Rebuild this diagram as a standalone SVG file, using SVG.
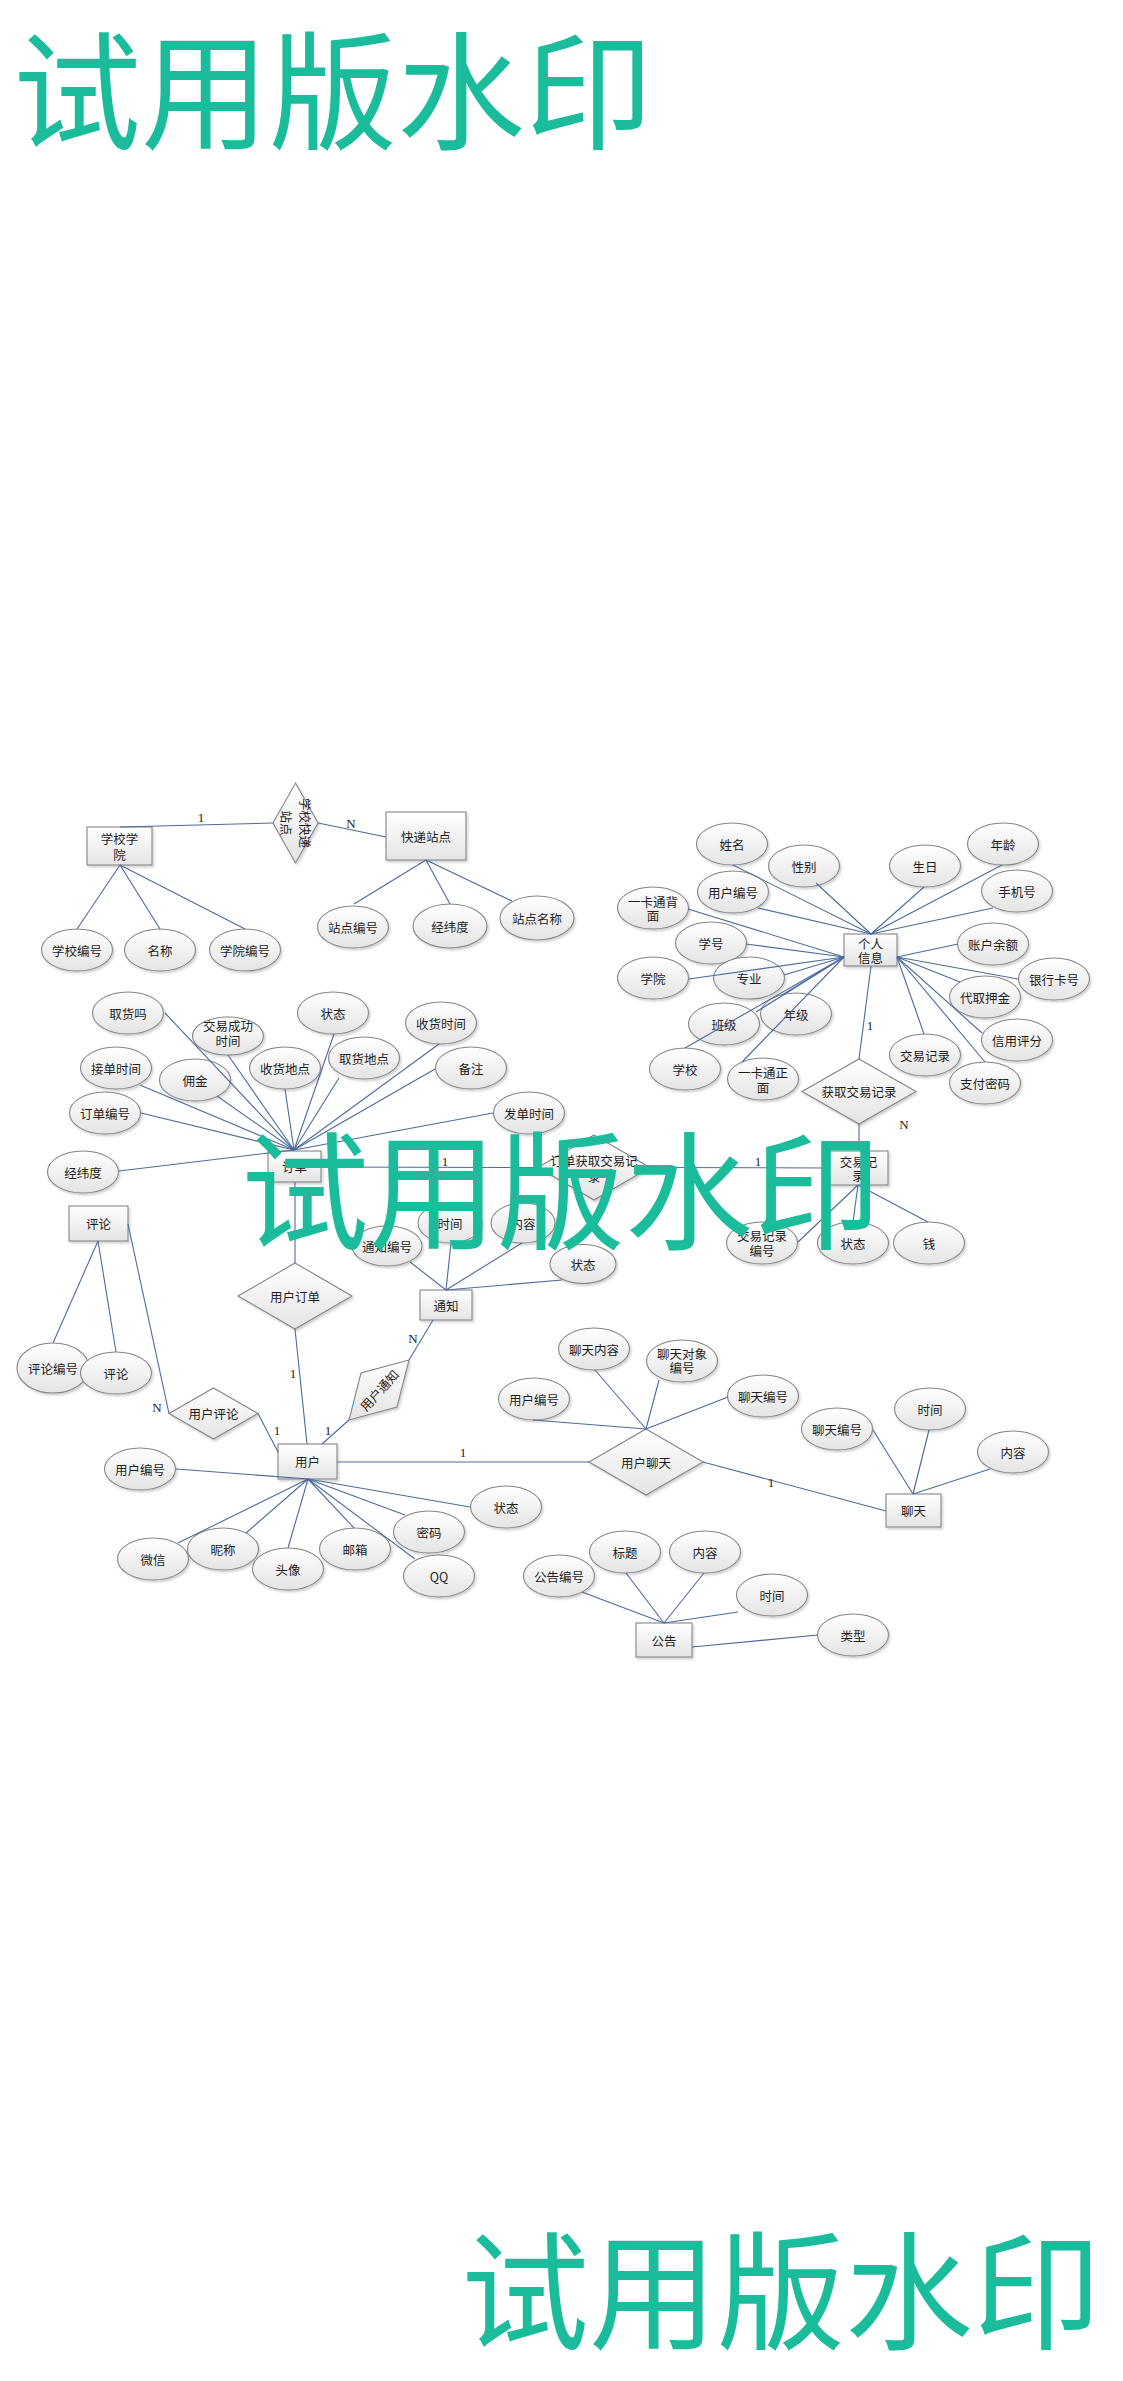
<svg xmlns="http://www.w3.org/2000/svg" width="1123" height="2381" viewBox="0 0 1123 2381">
<defs>
  <linearGradient id="fillG" x1="0" y1="0" x2="0" y2="1">
    <stop offset="0" stop-color="#ffffff"/>
    <stop offset="1" stop-color="#e4e4e4"/>
  </linearGradient>
  <filter id="sh" x="-20%" y="-20%" width="140%" height="150%">
    <feDropShadow dx="1.5" dy="2" stdDeviation="1.2" flood-color="#000" flood-opacity="0.18"/>
  </filter>
  <style>
    .e, .r, .d { fill: url(#fillG); stroke: #858585; stroke-width: 1.1; filter: url(#sh); }
    .t { font-family: "Noto Sans CJK SC", "Liberation Sans", sans-serif; font-size: 12.5px; fill: #1e1e1e; text-anchor: middle; dominant-baseline: central; }
    .c line { stroke: #4b6b9b; stroke-width: 1.1; }
    .lb { font-family: "Liberation Serif", serif; font-size: 13px; fill: #222; text-anchor: middle; dominant-baseline: central; }
    .wm { font-family: "Noto Sans CJK SC", sans-serif; font-size: 128px; fill: #1bbc9b; }
  </style>
</defs>
<rect width="1123" height="2381" fill="#ffffff"/>

<!-- entities -->
<g id="ent-school"><rect class="r" x="87" y="827" width="65" height="38"/><text class="t" x="119.5" y="838">学校学</text><text class="t" x="119.5" y="854">院</text></g>
<g id="ent-station"><rect class="r" x="386" y="812" width="80" height="48"/><text class="t" x="426" y="836">快递站点</text></g>
<g id="ent-profile"><rect class="r" x="844" y="934" width="53" height="32"/><text class="t" x="870.5" y="943">个人</text><text class="t" x="870.5" y="957">信息</text></g>
<g id="ent-order"><rect class="r" x="268" y="1151" width="53" height="31"/><text class="t" x="294.5" y="1166.5">订单</text></g>
<g id="ent-trade"><rect class="r" x="829" y="1151" width="59" height="34"/><text class="t" x="858.5" y="1161.5">交易记</text><text class="t" x="858.5" y="1175">录</text></g>
<g id="ent-comment"><rect class="r" x="69" y="1206" width="59" height="35"/><text class="t" x="98.5" y="1223.5">评论</text></g>
<g id="ent-notice"><rect class="r" x="420" y="1290" width="52" height="30"/><text class="t" x="446" y="1305">通知</text></g>
<g id="ent-user"><rect class="r" x="278" y="1444" width="59" height="35"/><text class="t" x="307.5" y="1461.5">用户</text></g>
<g id="ent-chat"><rect class="r" x="886" y="1494" width="55" height="33"/><text class="t" x="913.5" y="1510.5">聊天</text></g>
<g id="ent-bulletin"><rect class="r" x="636" y="1623" width="56" height="34"/><text class="t" x="664" y="1640">公告</text></g>

<!-- relationships -->
<g id="rel-school-station"><polygon class="d" points="295.5,783 318,823 295.5,863 273,823"/><g transform="translate(295.5,823) rotate(90)"><text class="t" x="0" y="-9.5">学校快递</text><text class="t" x="0" y="9.5">站点</text></g></g>
<g id="rel-get-trade"><polygon class="d" points="859,1059 916,1091.5 859,1124 802,1091.5"/><text class="t" x="859" y="1091.5">获取交易记录</text></g>
<g id="rel-order-trade"><polygon class="d" points="594,1135 650,1167.5 594,1200 538,1167.5"/><text class="t" x="594" y="1160">订单获取交易记</text><text class="t" x="594" y="1176">录</text></g>
<g id="rel-user-order"><polygon class="d" points="295,1263 352,1296 295,1329 238,1296"/><text class="t" x="295" y="1296">用户订单</text></g>
<g id="rel-user-comment"><polygon class="d" points="213.5,1388 258,1413.5 213.5,1439 169,1413.5"/><text class="t" x="213.5" y="1413.5">用户评论</text></g>
<g id="rel-user-notice"><polygon class="d" points="349,1420 361,1373 409,1360 397,1407"/><text class="t" x="379" y="1390" transform="rotate(-48 379 1390)">用户通知</text></g>
<g id="rel-user-chat"><polygon class="d" points="646,1429 703,1462 646,1495 589,1462"/><text class="t" x="646" y="1462">用户聊天</text></g>

<!-- attributes -->
<g id="att-school-no"><ellipse class="e" cx="77" cy="950" rx="35.5" ry="21"/><text class="t" x="77" y="950">学校编号</text></g>
<g id="att-school-name"><ellipse class="e" cx="160" cy="950" rx="35.5" ry="21"/><text class="t" x="160" y="950">名称</text></g>
<g id="att-college-no"><ellipse class="e" cx="245" cy="950" rx="35.5" ry="21"/><text class="t" x="245" y="950">学院编号</text></g>

<g id="att-station-no"><ellipse class="e" cx="353" cy="927" rx="35.5" ry="21"/><text class="t" x="353" y="927">站点编号</text></g>
<g id="att-station-geo"><ellipse class="e" cx="450" cy="926" rx="37" ry="22"/><text class="t" x="450" y="926">经纬度</text></g>
<g id="att-station-name"><ellipse class="e" cx="537" cy="918" rx="37" ry="22"/><text class="t" x="537" y="918">站点名称</text></g>

<g id="att-name"><ellipse class="e" cx="732" cy="844" rx="35.5" ry="21"/><text class="t" x="732" y="844">姓名</text></g>
<g id="att-gender"><ellipse class="e" cx="804" cy="866" rx="35.5" ry="21"/><text class="t" x="804" y="866">性别</text></g>
<g id="att-birthday"><ellipse class="e" cx="925" cy="866" rx="35.5" ry="21"/><text class="t" x="925" y="866">生日</text></g>
<g id="att-age"><ellipse class="e" cx="1003" cy="844" rx="35.5" ry="21"/><text class="t" x="1003" y="844">年龄</text></g>
<g id="att-profile-uid"><ellipse class="e" cx="733" cy="892" rx="35.5" ry="21"/><text class="t" x="733" y="892">用户编号</text></g>
<g id="att-phone"><ellipse class="e" cx="1017" cy="891" rx="35.5" ry="21"/><text class="t" x="1017" y="891">手机号</text></g>
<g id="att-card-back"><ellipse class="e" cx="653" cy="908" rx="35.5" ry="21"/><text class="t" x="653" y="901">一卡通背</text><text class="t" x="653" y="915">面</text></g>
<g id="att-student-no"><ellipse class="e" cx="711" cy="943" rx="35.5" ry="21"/><text class="t" x="711" y="943">学号</text></g>
<g id="att-balance"><ellipse class="e" cx="993" cy="944" rx="35.5" ry="21"/><text class="t" x="993" y="944">账户余额</text></g>
<g id="att-college"><ellipse class="e" cx="653" cy="978" rx="35.5" ry="21"/><text class="t" x="653" y="978">学院</text></g>
<g id="att-major"><ellipse class="e" cx="749" cy="978" rx="35.5" ry="21"/><text class="t" x="749" y="978">专业</text></g>
<g id="att-bank"><ellipse class="e" cx="1054" cy="979" rx="35.5" ry="21"/><text class="t" x="1054" y="979">银行卡号</text></g>
<g id="att-deposit"><ellipse class="e" cx="985" cy="997" rx="35.5" ry="21"/><text class="t" x="985" y="997">代取押金</text></g>
<g id="att-class"><ellipse class="e" cx="724" cy="1024" rx="35.5" ry="21"/><text class="t" x="724" y="1024">班级</text></g>
<g id="att-grade"><ellipse class="e" cx="796" cy="1014" rx="35.5" ry="21"/><text class="t" x="796" y="1014">年级</text></g>
<g id="att-school"><ellipse class="e" cx="685" cy="1069" rx="35.5" ry="21"/><text class="t" x="685" y="1069">学校</text></g>
<g id="att-card-front"><ellipse class="e" cx="763" cy="1079" rx="35.5" ry="21"/><text class="t" x="763" y="1072">一卡通正</text><text class="t" x="763" y="1087">面</text></g>
<g id="att-trade-log"><ellipse class="e" cx="925" cy="1055" rx="35.5" ry="21"/><text class="t" x="925" y="1055">交易记录</text></g>
<g id="att-credit"><ellipse class="e" cx="1017" cy="1040" rx="35.5" ry="21"/><text class="t" x="1017" y="1040">信用评分</text></g>
<g id="att-paypwd"><ellipse class="e" cx="985" cy="1083" rx="35.5" ry="21"/><text class="t" x="985" y="1083">支付密码</text></g>

<g id="att-picked"><ellipse class="e" cx="128" cy="1013" rx="35.5" ry="21"/><text class="t" x="128" y="1013">取货吗</text></g>
<g id="att-done-time"><ellipse class="e" cx="228" cy="1036" rx="35.5" ry="19"/><text class="t" x="228" y="1025">交易成功</text><text class="t" x="228" y="1040">时间</text></g>
<g id="att-order-state"><ellipse class="e" cx="333" cy="1013" rx="35.5" ry="21"/><text class="t" x="333" y="1013">状态</text></g>
<g id="att-recv-time"><ellipse class="e" cx="441" cy="1023" rx="35.5" ry="21"/><text class="t" x="441" y="1023">收货时间</text></g>
<g id="att-accept-time"><ellipse class="e" cx="116" cy="1068" rx="35.5" ry="21"/><text class="t" x="116" y="1068">接单时间</text></g>
<g id="att-fee"><ellipse class="e" cx="195" cy="1080" rx="35.5" ry="21"/><text class="t" x="195" y="1080">佣金</text></g>
<g id="att-recv-place"><ellipse class="e" cx="285" cy="1068" rx="35.5" ry="21"/><text class="t" x="285" y="1068">收货地点</text></g>
<g id="att-pick-place"><ellipse class="e" cx="364" cy="1058" rx="35.5" ry="21"/><text class="t" x="364" y="1058">取货地点</text></g>
<g id="att-remark"><ellipse class="e" cx="471" cy="1068" rx="35.5" ry="21"/><text class="t" x="471" y="1068">备注</text></g>
<g id="att-order-no"><ellipse class="e" cx="105" cy="1113" rx="35.5" ry="21"/><text class="t" x="105" y="1113">订单编号</text></g>
<g id="att-post-time"><ellipse class="e" cx="529" cy="1113" rx="35.5" ry="21"/><text class="t" x="529" y="1113">发单时间</text></g>
<g id="att-order-geo"><ellipse class="e" cx="83" cy="1172" rx="35.5" ry="21"/><text class="t" x="83" y="1172">经纬度</text></g>

<g id="att-trade-no"><ellipse class="e" cx="762" cy="1243" rx="35.5" ry="21"/><text class="t" x="762" y="1235">交易记录</text><text class="t" x="762" y="1250">编号</text></g>
<g id="att-trade-state"><ellipse class="e" cx="853" cy="1243" rx="35.5" ry="21"/><text class="t" x="853" y="1243">状态</text></g>
<g id="att-money"><ellipse class="e" cx="929" cy="1243" rx="35.5" ry="21"/><text class="t" x="929" y="1243">钱</text></g>

<g id="att-comment-no"><ellipse class="e" cx="53" cy="1368" rx="36" ry="25"/><text class="t" x="53" y="1368">评论编号</text></g>
<g id="att-comment-text"><ellipse class="e" cx="116" cy="1373" rx="35.5" ry="21"/><text class="t" x="116" y="1373">评论</text></g>

<g id="att-notice-no"><ellipse class="e" cx="387" cy="1246" rx="35" ry="20"/><text class="t" x="387" y="1246">通知编号</text></g>
<g id="att-notice-time"><ellipse class="e" cx="450" cy="1223" rx="32" ry="20"/><text class="t" x="450" y="1223">时间</text></g>
<g id="att-notice-body"><ellipse class="e" cx="523" cy="1223" rx="32" ry="20"/><text class="t" x="523" y="1223">内容</text></g>
<g id="att-notice-state"><ellipse class="e" cx="583" cy="1264" rx="33" ry="19.5"/><text class="t" x="583" y="1264">状态</text></g>

<g id="att-chat-body"><ellipse class="e" cx="594" cy="1349" rx="35.5" ry="21"/><text class="t" x="594" y="1349">聊天内容</text></g>
<g id="att-chat-peer"><ellipse class="e" cx="682" cy="1361" rx="35.5" ry="21"/><text class="t" x="682" y="1353">聊天对象</text><text class="t" x="682" y="1367">编号</text></g>
<g id="att-chat-uid"><ellipse class="e" cx="534" cy="1399" rx="35.5" ry="21"/><text class="t" x="534" y="1399">用户编号</text></g>
<g id="att-chat-no"><ellipse class="e" cx="763" cy="1396" rx="35.5" ry="21"/><text class="t" x="763" y="1396">聊天编号</text></g>

<g id="att-msg-no"><ellipse class="e" cx="837" cy="1429" rx="35.5" ry="21"/><text class="t" x="837" y="1429">聊天编号</text></g>
<g id="att-msg-time"><ellipse class="e" cx="930" cy="1409" rx="35.5" ry="21"/><text class="t" x="930" y="1409">时间</text></g>
<g id="att-msg-body"><ellipse class="e" cx="1013" cy="1452" rx="35.5" ry="21"/><text class="t" x="1013" y="1452">内容</text></g>

<g id="att-user-no"><ellipse class="e" cx="140" cy="1469" rx="35.5" ry="21"/><text class="t" x="140" y="1469">用户编号</text></g>
<g id="att-wechat"><ellipse class="e" cx="153" cy="1559" rx="35.5" ry="21"/><text class="t" x="153" y="1559">微信</text></g>
<g id="att-nick"><ellipse class="e" cx="223" cy="1549" rx="35.5" ry="21"/><text class="t" x="223" y="1549">昵称</text></g>
<g id="att-avatar"><ellipse class="e" cx="288" cy="1569" rx="35.5" ry="21"/><text class="t" x="288" y="1569">头像</text></g>
<g id="att-mail"><ellipse class="e" cx="355" cy="1549" rx="35.5" ry="21"/><text class="t" x="355" y="1549">邮箱</text></g>
<g id="att-pwd"><ellipse class="e" cx="429" cy="1532" rx="35.5" ry="21"/><text class="t" x="429" y="1532">密码</text></g>
<g id="att-qq"><ellipse class="e" cx="439" cy="1576" rx="35.5" ry="21"/><text class="t" x="439" y="1576">QQ</text></g>
<g id="att-user-state"><ellipse class="e" cx="506" cy="1507" rx="35.5" ry="21"/><text class="t" x="506" y="1507">状态</text></g>

<g id="att-bul-no"><ellipse class="e" cx="559" cy="1576" rx="35.5" ry="21"/><text class="t" x="559" y="1576">公告编号</text></g>
<g id="att-bul-title"><ellipse class="e" cx="625" cy="1552" rx="35.5" ry="21"/><text class="t" x="625" y="1552">标题</text></g>
<g id="att-bul-body"><ellipse class="e" cx="705" cy="1552" rx="35.5" ry="21"/><text class="t" x="705" y="1552">内容</text></g>
<g id="att-bul-time"><ellipse class="e" cx="772" cy="1595" rx="35.5" ry="21"/><text class="t" x="772" y="1595">时间</text></g>
<g id="att-bul-type"><ellipse class="e" cx="853" cy="1635" rx="35.5" ry="21"/><text class="t" x="853" y="1635">类型</text></g>

<!-- connectors -->
<g id="connectors" class="c">
  <line x1="120" y1="865" x2="77" y2="929"/>
  <line x1="120" y1="865" x2="160" y2="929"/>
  <line x1="120" y1="865" x2="245" y2="929"/>
  <line x1="120" y1="827" x2="273" y2="823"/>
  <line x1="318" y1="823" x2="386" y2="837"/>
  <line x1="426" y1="860" x2="354" y2="904"/>
  <line x1="426" y1="860" x2="450" y2="904"/>
  <line x1="426" y1="860" x2="512" y2="901"/>

  <line x1="871" y1="934" x2="733" y2="865"/>
  <line x1="871" y1="934" x2="758" y2="908"/>
  <line x1="871" y1="934" x2="816" y2="883"/>
  <line x1="871" y1="934" x2="924" y2="887"/>
  <line x1="871" y1="934" x2="1002" y2="865"/>
  <line x1="871" y1="934" x2="993" y2="908"/>
  <line x1="844" y1="957" x2="688" y2="909"/>
  <line x1="844" y1="957" x2="746" y2="944"/>
  <line x1="844" y1="957" x2="689" y2="979"/>
  <line x1="844" y1="957" x2="784" y2="975"/>
  <line x1="844" y1="957" x2="756" y2="1012"/>
  <line x1="844" y1="957" x2="782" y2="995"/>
  <line x1="844" y1="957" x2="685" y2="1048"/>
  <line x1="844" y1="957" x2="742" y2="1062"/>
  <line x1="897" y1="957" x2="958" y2="944"/>
  <line x1="897" y1="957" x2="1018" y2="979"/>
  <line x1="897" y1="957" x2="960" y2="982"/>
  <line x1="897" y1="957" x2="982" y2="1033"/>
  <line x1="897" y1="957" x2="924" y2="1034"/>
  <line x1="897" y1="957" x2="985" y2="1062"/>
  <line x1="871" y1="966" x2="859" y2="1059"/>
  <line x1="859" y1="1124" x2="859" y2="1151"/>

  <line x1="294" y1="1150" x2="165" y2="1013"/>
  <line x1="294" y1="1150" x2="228" y2="1055"/>
  <line x1="294" y1="1150" x2="334" y2="1034"/>
  <line x1="294" y1="1150" x2="140" y2="1085"/>
  <line x1="294" y1="1150" x2="217" y2="1096"/>
  <line x1="294" y1="1150" x2="285" y2="1089"/>
  <line x1="294" y1="1150" x2="339" y2="1078"/>
  <line x1="294" y1="1150" x2="141" y2="1113"/>
  <line x1="294" y1="1150" x2="119" y2="1171"/>
  <line x1="294" y1="1150" x2="439" y2="1044"/>
  <line x1="294" y1="1150" x2="435" y2="1069"/>
  <line x1="294" y1="1150" x2="493" y2="1113"/>
  <line x1="321" y1="1167" x2="538" y2="1167.5"/>
  <line x1="650" y1="1167.5" x2="829" y2="1168"/>
  <line x1="858" y1="1185" x2="798" y2="1242"/>
  <line x1="858" y1="1185" x2="853" y2="1222"/>
  <line x1="858" y1="1185" x2="928" y2="1222"/>

  <line x1="295" y1="1182" x2="295" y2="1263"/>
  <line x1="295" y1="1329" x2="307" y2="1444"/>
  <line x1="98" y1="1241" x2="53" y2="1343"/>
  <line x1="98" y1="1241" x2="116" y2="1352"/>
  <line x1="128" y1="1224" x2="169" y2="1413.5"/>
  <line x1="258" y1="1413.5" x2="278" y2="1452"/>
  <line x1="322" y1="1444" x2="349" y2="1420"/>
  <line x1="409" y1="1360" x2="433" y2="1320"/>
  <line x1="446" y1="1290" x2="410" y2="1262"/>
  <line x1="446" y1="1290" x2="451" y2="1243"/>
  <line x1="446" y1="1290" x2="522" y2="1243"/>
  <line x1="446" y1="1290" x2="562" y2="1280"/>

  <line x1="337" y1="1462" x2="589" y2="1462"/>
  <line x1="646" y1="1429" x2="533" y2="1420"/>
  <line x1="646" y1="1429" x2="595" y2="1370"/>
  <line x1="646" y1="1429" x2="659" y2="1380"/>
  <line x1="646" y1="1429" x2="728" y2="1397"/>
  <line x1="703" y1="1462" x2="886" y2="1511"/>
  <line x1="913" y1="1494" x2="873" y2="1430"/>
  <line x1="913" y1="1494" x2="929" y2="1430"/>
  <line x1="913" y1="1494" x2="990" y2="1469"/>

  <line x1="308" y1="1479" x2="176" y2="1469"/>
  <line x1="308" y1="1479" x2="178" y2="1543"/>
  <line x1="308" y1="1479" x2="246" y2="1533"/>
  <line x1="308" y1="1479" x2="288" y2="1548"/>
  <line x1="308" y1="1479" x2="354" y2="1528"/>
  <line x1="308" y1="1479" x2="405" y2="1515"/>
  <line x1="308" y1="1479" x2="415" y2="1559"/>
  <line x1="308" y1="1479" x2="470" y2="1507"/>

  <line x1="664" y1="1623" x2="582" y2="1592"/>
  <line x1="664" y1="1623" x2="626" y2="1573"/>
  <line x1="664" y1="1623" x2="704" y2="1573"/>
  <line x1="664" y1="1623" x2="738" y2="1612"/>
  <line x1="692" y1="1647" x2="818" y2="1635"/>
</g>

<!-- cardinality labels -->
<g id="cardinality">
  <text class="lb" x="201" y="817">1</text>
  <text class="lb" x="351" y="823">N</text>
  <text class="lb" x="870" y="1025">1</text>
  <text class="lb" x="904" y="1124">N</text>
  <text class="lb" x="445" y="1161">1</text>
  <text class="lb" x="758" y="1161">1</text>
  <text class="lb" x="293" y="1373">1</text>
  <text class="lb" x="157" y="1407">N</text>
  <text class="lb" x="277" y="1430">1</text>
  <text class="lb" x="328" y="1430">1</text>
  <text class="lb" x="413" y="1338">N</text>
  <text class="lb" x="463" y="1452">1</text>
  <text class="lb" x="771" y="1482">1</text>
</g>

<!-- trial watermark -->
<g id="watermark">
  <text class="wm" x="13" y="140">试用版水印</text>
  <text class="wm" x="241" y="1240">试用版水印</text>
  <text class="wm" x="461" y="2340">试用版水印</text>
</g>
</svg>
